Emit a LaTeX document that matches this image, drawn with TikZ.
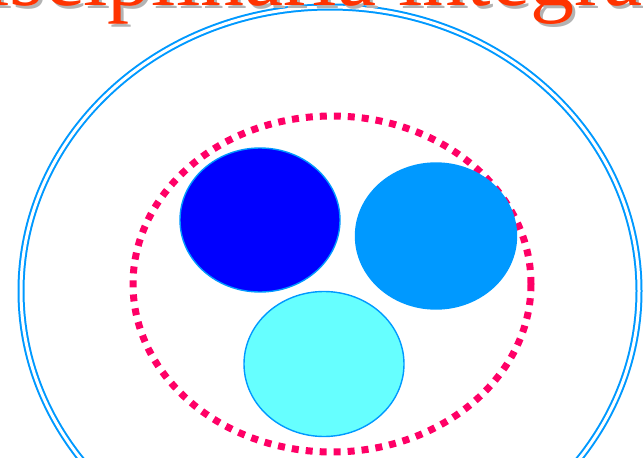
\documentclass[tikz,border=0pt]{standalone}
\usepackage{fontspec}
\setmainfont{Liberation Serif}
\usetikzlibrary{shapes.geometric}
\definecolor{skyb}{HTML}{0099FF}
\definecolor{deepb}{HTML}{0000FF}
\definecolor{cyanl}{HTML}{66FFFF}
\definecolor{pinkr}{HTML}{FF0066}
\definecolor{titlec}{HTML}{FF3300}
\definecolor{shadowc}{HTML}{B3B3B3}
\tikzset{
  blob/.style={ellipse, draw=skyb, line width=1.4pt, inner sep=0pt},
  titletext/.style={anchor=base west, inner sep=0pt, font=\fontsize{88}{90}\selectfont},
}
\begin{document}
\begin{tikzpicture}[x=1pt,y=-1pt]
\useasboundingbox (0,0) rectangle (643,458);
\clip (0,0) rectangle (643,458);
% outer double ellipse
\node[ellipse, draw=skyb, double=white, double distance=3pt, line width=2pt,
      minimum width=618pt, minimum height=568pt, inner sep=0pt] (outer) at (330,291) {};
% dotted ellipse
\node[ellipse, draw=pinkr, line width=7pt, dash pattern=on 7pt off 7pt,
      minimum width=398pt, minimum height=336pt, inner sep=0pt] (group) at (332,284) {};
% three blobs
\node[blob, fill=deepb, minimum width=160pt, minimum height=144pt] (b1) at (260,220) {};
\node[blob, fill=skyb, minimum width=161pt, minimum height=146pt] (b2) at (436,236) {};
\node[blob, fill=cyanl, minimum width=160pt, minimum height=145pt] (b3) at (324,364) {};
% title
\node[titletext, text=shadowc] (tshadow) at (-222,8) {Interdisciplinaria integrada};
\node[titletext, text=titlec] (title) at (-225,5) {Interdisciplinaria integrada};
\end{tikzpicture}
\end{document}
